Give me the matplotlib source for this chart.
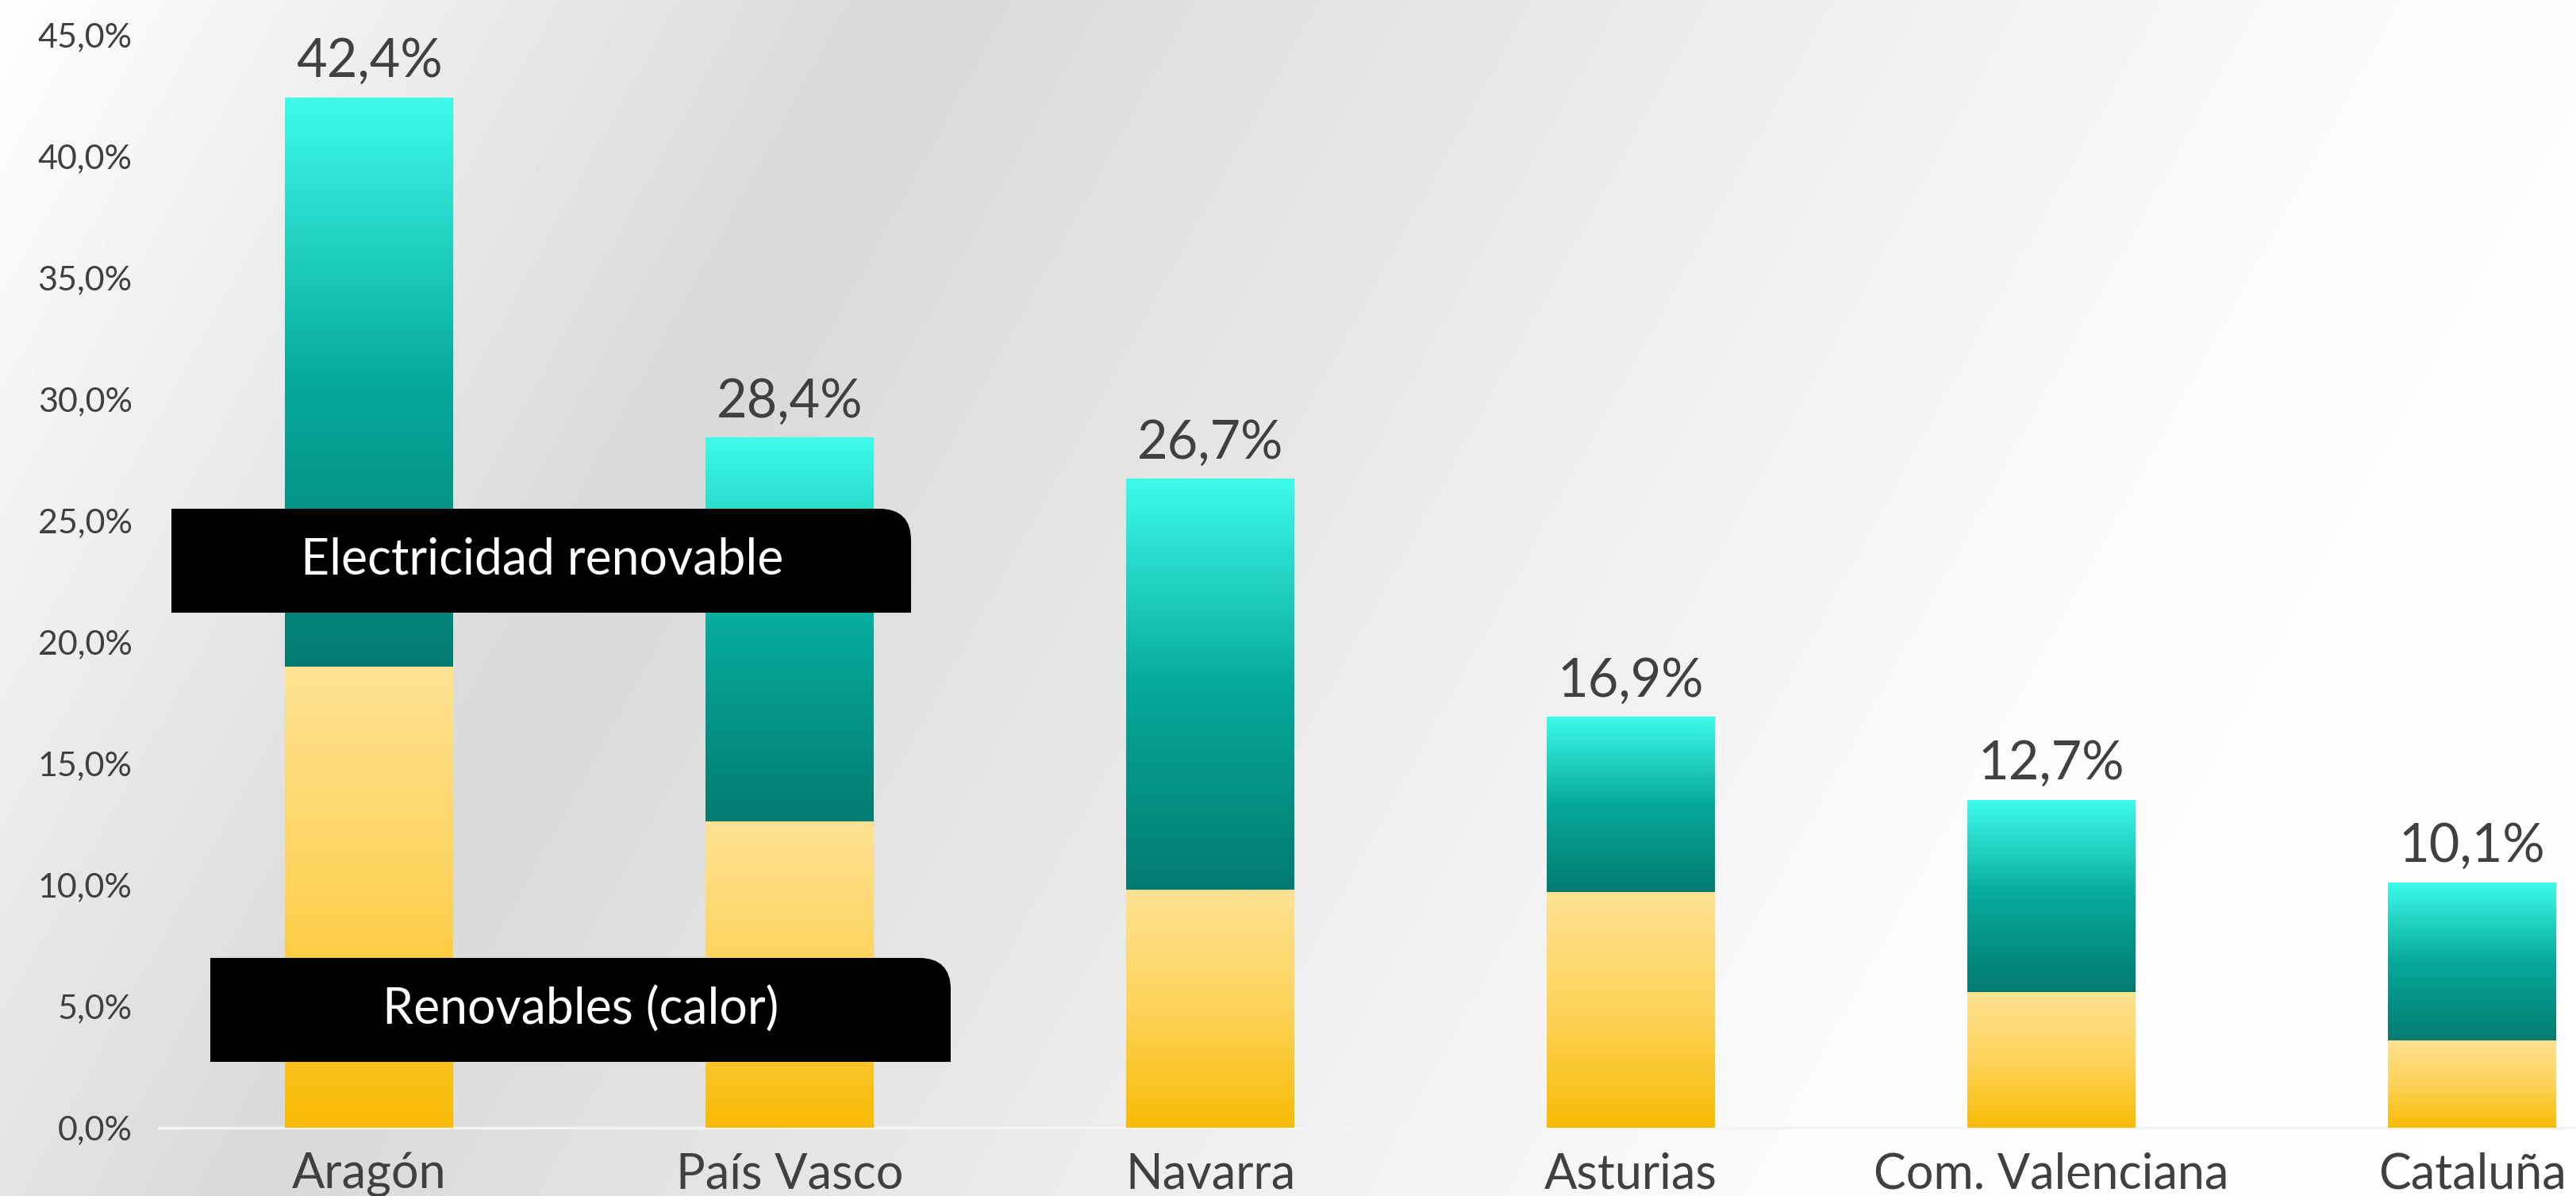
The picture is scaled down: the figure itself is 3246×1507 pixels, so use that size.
import numpy as np
import matplotlib.pyplot as plt
from matplotlib.path import Path
from matplotlib.patches import PathPatch
from matplotlib.colors import LinearSegmentedColormap

plt.rcParams['font.family'] = ['Lato', 'DejaVu Sans']

regions = ["Aragón", "País Vasco", "Navarra", "Asturias", "Com. Valenciana", "Cataluña"]
heat = [19.0, 12.6, 9.8, 9.7, 5.6, 3.6]
electricity = [23.4, 15.8, 16.9, 7.2, 7.9, 6.5]
total_labels = ["42,4%", "28,4%", "26,7%", "16,9%", "12,7%", "10,1%"]
y_ticks = [0, 5, 10, 15, 20, 25, 30, 35, 40, 45]
legend_names = ["Electricidad renovable", "Renovables (calor)"]

W, H = 3246, 1507
TEXT = "#404040"

teal = LinearSegmentedColormap.from_list("teal", ["#037b70", "#06a99c", "#3efbea"])
gold = LinearSegmentedColormap.from_list("gold", ["#f8bb05", "#fdd35a", "#ffe292"])

fig = plt.figure(figsize=(W / 100, H / 100), dpi=100)

# background: diagonal grey band
bg = fig.add_axes([0, 0, 1, 1], zorder=-5)
yy, xx = np.mgrid[0:H:4, 0:W:4]
t = xx + 0.55 * yy
shade = np.interp(t, [0, 1140, 1500, 2400, 3100, 4100], [0.995, 0.85, 0.875, 0.94, 0.985, 1.0])
bg.imshow(shade, cmap="gray", vmin=0, vmax=1, extent=(0, W, H, 0), aspect="auto", interpolation="bilinear")
bg.set_xlim(0, W)
bg.set_ylim(H, 0)
bg.axis("off")

# main axes
left, base, top = 200, 1421, 44
ax = fig.add_axes([left / W, (H - base) / H, (W - left) / W, (base - top) / H])
ax.patch.set_visible(False)
x = np.arange(len(regions))

grad = np.linspace(0, 1, 256).reshape(-1, 1)
heat_bars = ax.bar(x, heat, width=0.4, color="none", zorder=2)
elec_bars = ax.bar(x, electricity, width=0.4, bottom=heat, color="none", zorder=2)
for bars, cmap in ((heat_bars, gold), (elec_bars, teal)):
    for b in bars:
        x0, y0 = b.get_x(), b.get_y()
        ax.imshow(grad, cmap=cmap, origin="lower", aspect="auto", interpolation="bilinear",
                  extent=(x0, x0 + b.get_width(), y0, y0 + b.get_height()), zorder=2)
ax.set_xlim(-0.5, -0.5 + (W - left) / 530)
ax.set_ylim(0, 45)

for b, lab in zip(elec_bars, total_labels):
    ax.annotate(lab, (b.get_x() + b.get_width() / 2, b.get_y() + b.get_height()),
                xytext=(0, 19), textcoords="offset points", ha="center", va="baseline",
                fontsize=48, color=TEXT)

ax.set_yticks(y_ticks)
ax.set_yticklabels([f"{v:.1f}%".replace(".", ",") for v in y_ticks])
ax.set_xticks(x)
ax.set_xticklabels(regions)
ax.tick_params(axis="y", length=0, pad=24, labelsize=31, labelcolor=TEXT)
ax.tick_params(axis="x", length=0, pad=22, labelsize=44, labelcolor=TEXT)
for s in ("left", "right", "top"):
    ax.spines[s].set_visible(False)
ax.spines["bottom"].set_color("#f4f4f4")
ax.spines["bottom"].set_linewidth(2.5)
ax.spines["bottom"].set_zorder(1)

# legend boxes, in pixel space
ov = fig.add_axes([0, 0, 1, 1], zorder=5)
ov.set_xlim(0, W)
ov.set_ylim(H, 0)
ov.axis("off")


def tag_box(x0, y0, x1, y1, r=40):
    verts = [(x0, y0), (x1 - r, y0), (x1, y0), (x1, y0 + r), (x1, y1), (x0, y1), (x0, y0)]
    codes = [Path.MOVETO, Path.LINETO, Path.CURVE3, Path.CURVE3, Path.LINETO, Path.LINETO, Path.CLOSEPOLY]
    return PathPatch(Path(verts, codes), facecolor="black", edgecolor="none")


boxes = [(216, 641, 1148, 772), (265, 1207, 1198, 1338)]
text_pos = [(683, 706), (732, 1272)]
for (x0, y0, x1, y1), (tx, ty), name in zip(boxes, text_pos, legend_names):
    ov.add_patch(tag_box(x0, y0, x1, y1))
    ov.text(tx, ty, name, color="white", fontsize=45, fontweight="normal", ha="center", va="center")

fig.savefig("out.png", dpi=100)
